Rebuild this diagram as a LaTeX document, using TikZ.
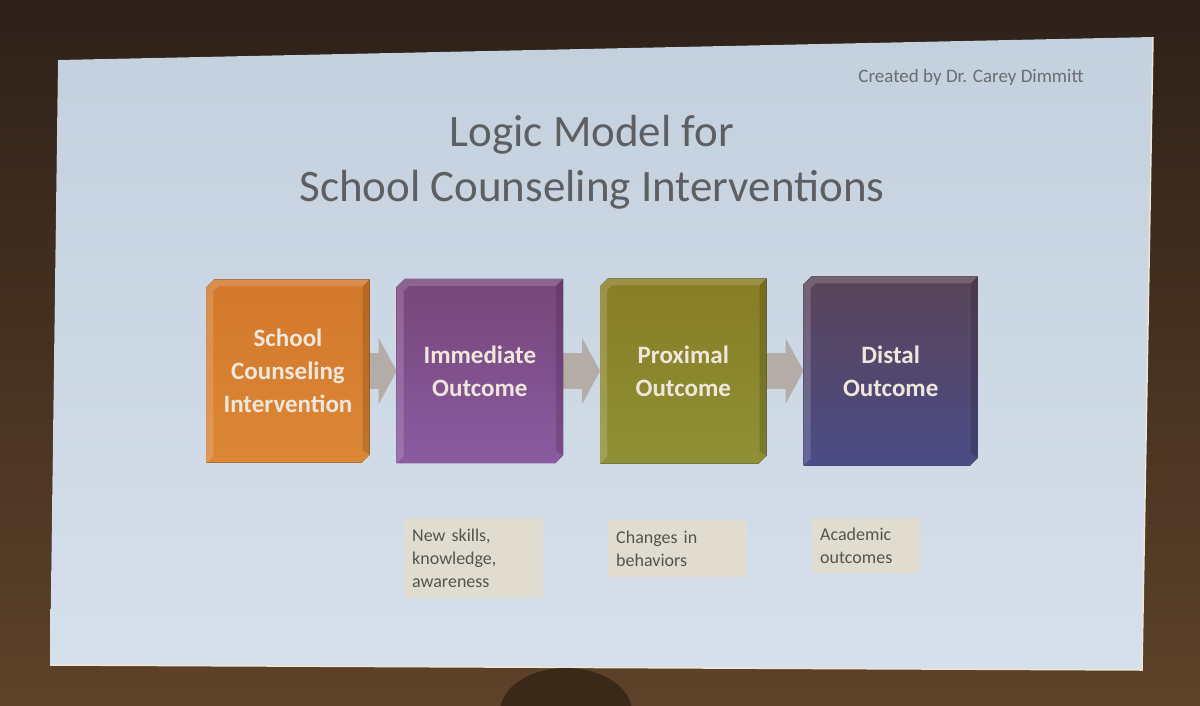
\documentclass[tikz,border=0pt]{standalone}
\usepackage{fontspec}
\setmainfont{Carlito}
\usepackage{tikz}
\usetikzlibrary{arrows.meta}
\usetikzlibrary{positioning}
\usetikzlibrary{calc}
\usetikzlibrary{backgrounds}
\definecolor{roomtop}{HTML}{2E2119}
\definecolor{roombottom}{HTML}{5E4229}
\definecolor{slidetop}{HTML}{C3D0DD}
\definecolor{slidebottom}{HTML}{D6E0EC}
\definecolor{slideedge}{HTML}{ECE6D6}
\definecolor{titlegray}{HTML}{5E5F63}
\definecolor{creditgray}{HTML}{6A6D72}
\definecolor{boxtext}{HTML}{EFE6DC}
\definecolor{arrowgray}{HTML}{B4ACA7}
\definecolor{notefill}{HTML}{E0DDD0}
\definecolor{notetext}{HTML}{55534D}
\definecolor{oranget}{HTML}{D3782B}
\definecolor{orangeb}{HTML}{DB8736}
\definecolor{purplet}{HTML}{774679}
\definecolor{purpleb}{HTML}{8A5BA1}
\definecolor{olivet}{HTML}{877D24}
\definecolor{oliveb}{HTML}{8F9036}
\definecolor{distalt}{HTML}{5A4458}
\definecolor{distalb}{HTML}{4A4C86}
\definecolor{headcol}{HTML}{3A2819}
\pgfdeclarelayer{faces}
\pgfsetlayers{background,faces,main}
\tikzstyle{block} = [rectangle, inner sep = 0pt, align = center, text = boxtext, font = \fontsize{25}{33}\selectfont\bfseries]
\tikzstyle{note} = [rectangle, fill = notefill, text = notetext, align = left, anchor = north west, inner sep = 8pt, font = \fontsize{18}{23}\selectfont]
\tikzstyle{chevron} = [line width = 36pt, draw = arrowgray, -{Triangle[length = 18pt, width = 66pt, line width = 0pt]}]
% box with cut corners and a bevelled rim
\newcommand{\cube}[3]{
	\fill[top color = #2, bottom color = #3] ($(#1.north west)+(8pt,0)$) -- (#1.north east) -- ($(#1.south east)+(0,8pt)$) -- ($(#1.south east)+(-8pt,0)$) -- (#1.south west) -- ($(#1.north west)+(0,-8pt)$) -- cycle;
	\fill[white, opacity = 0.16] ($(#1.north west)+(8pt,0)$) -- (#1.north east) -- ($(#1.north east)+(-7pt,-7pt)$) -- ($(#1.north west)+(12pt,-7pt)$) -- ($(#1.north west)+(7pt,-12pt)$) -- ($(#1.south west)+(7pt,7pt)$) -- (#1.south west) -- ($(#1.north west)+(0,-8pt)$) -- cycle;
	\fill[black, opacity = 0.14] (#1.north east) -- ($(#1.south east)+(0,8pt)$) -- ($(#1.south east)+(-7pt,12pt)$) -- ($(#1.north east)+(-7pt,-7pt)$) -- cycle;
}
\begin{document}
\begin{tikzpicture}[x = 1pt, y = -1pt]
	\useasboundingbox (0,0) rectangle (1200,705);
	
	% room and screen
	\begin{pgfonlayer}{background}
		\fill[top color = roomtop, bottom color = roombottom] (0,0) rectangle (1200,705);
		\fill[top color = slidetop, bottom color = slidebottom] (58,60) -- (1153,37) -- (1142,670) -- (50,665) -- cycle;
		\draw[slideedge, line width = 1.5pt] (1153,37) -- (1142,670) -- (50,665);
		\fill[headcol] (566,712) ellipse (66 and 44);
	\end{pgfonlayer}
	
	% heading
	\node[text = creditgray, font = \fontsize{19}{21}\selectfont] (credit) at (971,77) {Created by Dr. Carey Dimmitt};
	\node[text = titlegray, align = center, font = \fontsize{45}{55}\selectfont] (title) at (592,162) {Logic Model for\\School Counseling Interventions};
	
	% stages
	\node[block, minimum width = 163pt, minimum height = 183pt] (sci) at (288,371) {School\\Counseling\\Intervention};
	\node[block, minimum width = 166pt, minimum height = 184pt, right = 27pt of sci] (imm) {Immediate\\Outcome};
	\node[block, minimum width = 166pt, minimum height = 185pt, right = 37pt of imm] (prox) {Proximal\\Outcome};
	\node[block, minimum width = 174pt, minimum height = 189pt, right = 37pt of prox] (dist) {Distal\\Outcome};
	
	% notes under the stages
	\node[note, text width = 123pt, minimum height = 80pt] (skills) at (404,518) {New skills,\\knowledge,\\awareness};
	\node[note, text width = 123pt, minimum height = 57pt] (behav) at (608,520) {Changes in\\behaviors};
	\node[note, text width = 92pt, minimum height = 55pt] (acad) at (812,518) {Academic\\outcomes};
	
	% arrows and box faces behind the texts
	\begin{pgfonlayer}{faces}
		\draw[chevron] ($(sci.east)+(-4pt,0)$) -- (imm.west);
		\draw[chevron] ($(imm.east)+(-4pt,0)$) -- (prox.west);
		\draw[chevron] ($(prox.east)+(-4pt,0)$) -- (dist.west);
		\cube{sci}{oranget}{orangeb}
		\cube{imm}{purplet}{purpleb}
		\cube{prox}{olivet}{oliveb}
		\cube{dist}{distalt}{distalb}
	\end{pgfonlayer}
	
\end{tikzpicture}
\end{document}
